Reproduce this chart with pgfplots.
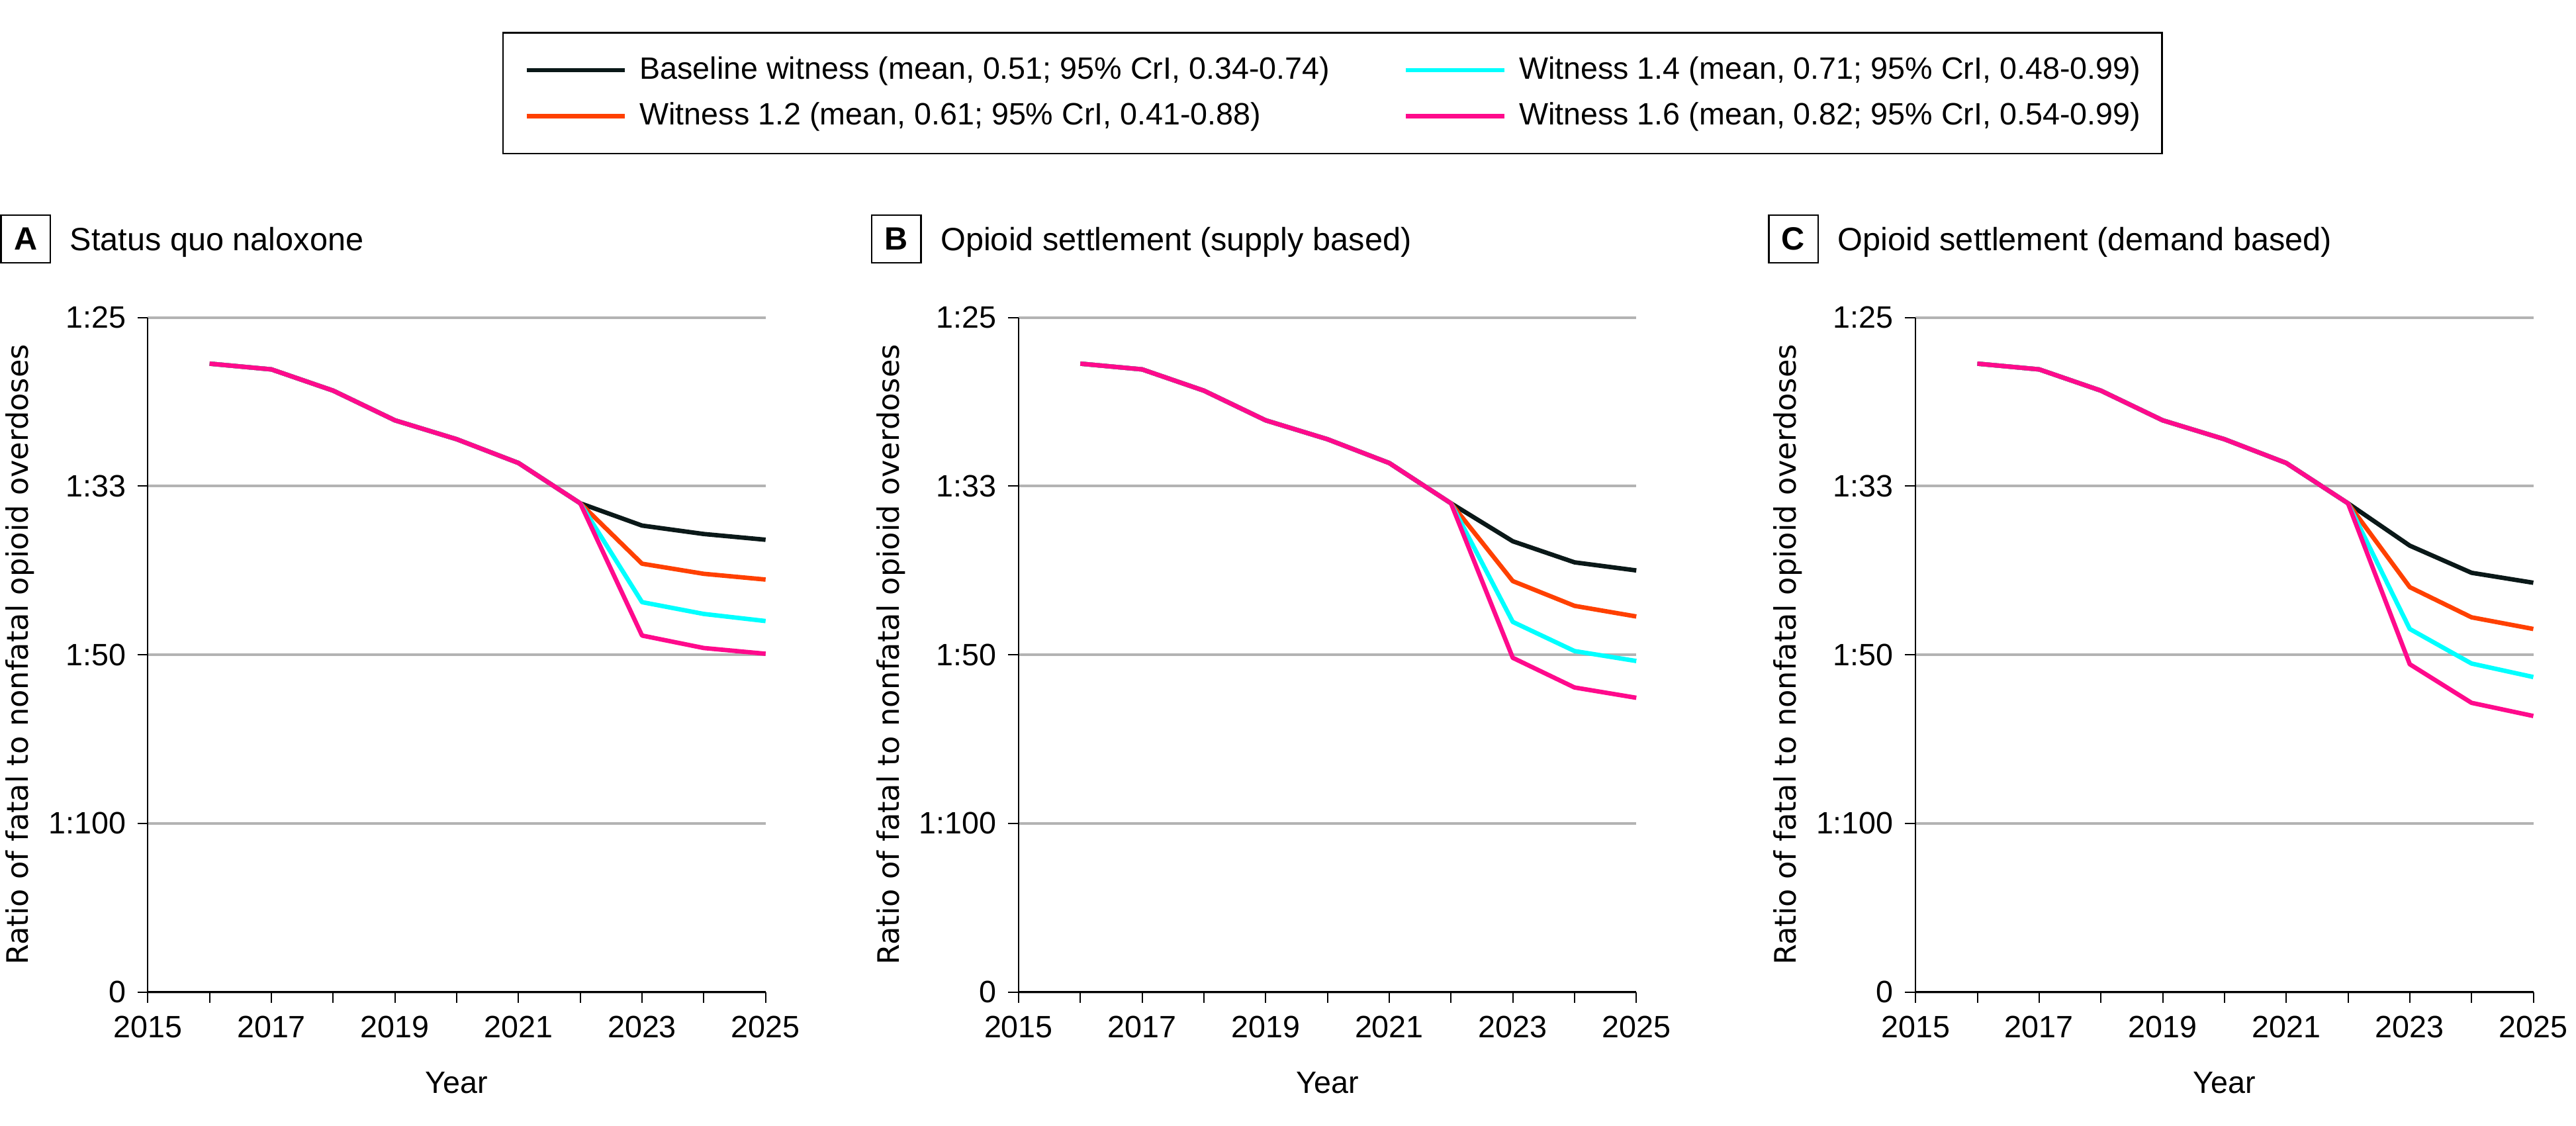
\documentclass[border=0pt]{standalone}
\usepackage{fontspec}
\setmainfont{Liberation Sans}
\newfontfamily\dejavu{DejaVu Sans}
\usepackage{pgfplots}
\usepackage{pgfplotstable}
\pgfplotsset{compat=1.18}
\definecolor{cblack}{HTML}{0A1818}
\definecolor{corange}{HTML}{FF4000}
\definecolor{ccyan}{HTML}{00FFFF}
\definecolor{cmag}{HTML}{FF0A8C}
\definecolor{cgrid}{HTML}{B3B3B3}

\pgfplotstableread{
year black orange cyan magenta
2016 0.03726 0.03726 0.03726 0.03726
2017 0.03692 0.03692 0.03692 0.03692
2018 0.03566 0.03566 0.03566 0.03566
2019 0.03390 0.03390 0.03390 0.03390
2020 0.03278 0.03278 0.03278 0.03278
2021 0.03137 0.03137 0.03137 0.03137
2022 0.02898 0.02898 0.02898 0.02898
2023 0.02766 0.02540 0.02312 0.02114
2024 0.02716 0.02480 0.02242 0.02040
2025 0.02682 0.02446 0.02200 0.02006
}\dataA

\pgfplotstableread{
year black orange cyan magenta
2016 0.03726 0.03726 0.03726 0.03726
2017 0.03692 0.03692 0.03692 0.03692
2018 0.03566 0.03566 0.03566 0.03566
2019 0.03390 0.03390 0.03390 0.03390
2020 0.03278 0.03278 0.03278 0.03278
2021 0.03137 0.03137 0.03137 0.03137
2022 0.02898 0.02898 0.02898 0.02898
2023 0.02673 0.02437 0.02195 0.01982
2024 0.02548 0.02290 0.02022 0.01806
2025 0.02500 0.02227 0.01963 0.01745
}\dataB

\pgfplotstableread{
year black orange cyan magenta
2016 0.03726 0.03726 0.03726 0.03726
2017 0.03692 0.03692 0.03692 0.03692
2018 0.03566 0.03566 0.03566 0.03566
2019 0.03390 0.03390 0.03390 0.03390
2020 0.03278 0.03278 0.03278 0.03278
2021 0.03137 0.03137 0.03137 0.03137
2022 0.02898 0.02898 0.02898 0.02898
2023 0.02647 0.02401 0.02153 0.01944
2024 0.02486 0.02222 0.01948 0.01715
2025 0.02427 0.02153 0.01868 0.01637
}\dataC

\pgfplotsset{
  panel/.style={
    scale only axis, width=188pt, height=205.3pt,
    xmin=2015, xmax=2025, ymin=0, ymax=0.04,
    axis x line*=bottom, axis y line*=left,
    x axis line style={line width=0.5pt, black, -},
    y axis line style={line width=0.4pt, black, -},
    xtick={2015,2017,...,2025}, minor xtick={2016,2018,...,2024},
    ytick={0,0.01,0.02,0.03,0.04}, yticklabels={0,1:100,1:50,1:33,1:25},
    scaled y ticks=false,
    tick align=outside, major tick length=3.2pt, minor tick length=3.2pt,
    every tick/.style={black, line width=0.4pt},
    minor tick style={black, line width=0.4pt},
    ymajorgrids, major grid style={cgrid, line width=0.8pt},
    /pgf/number format/1000 sep={}, /pgf/number format/assume math mode=true,
    tick label style={font=\fontsize{9.4}{11}\selectfont},
    xticklabel style={yshift=-0.5pt},
    xlabel={Year},
    xlabel style={at={(axis description cs:0.5,0)}, anchor=north, yshift=-20.7pt, font=\fontsize{9.4}{11}\selectfont},
    ylabel={Ratio of fatal to nonfatal opioid overdoses},
    ylabel style={at={(axis description cs:-0.1936,0.5)}, anchor=base, font=\dejavu\fontsize{9}{11}\selectfont},
    clip=false,
    every axis plot/.append style={line width=1.35pt, line join=round},
  }
}

\begin{document}
\begin{tikzpicture}
\useasboundingbox (0,0) rectangle (784pt,342.5pt);

% Panel A
\begin{axis}[panel, at={(45pt,40.6pt)}, anchor=south west,
  legend columns=2, legend cell align=left,
  legend image code/.code={\draw[#1] (0pt,0pt) -- (30pt,0pt);},
  legend style={at={(axis description cs:1.9176,1.4230)}, anchor=north,
    draw=black, line width=0.5pt, inner xsep=6.5pt, inner ysep=7.2pt,
    font=\fontsize{9.4}{11}\selectfont, nodes={inner sep=0pt}, row sep=5.7pt,
    /tikz/every odd column/.append style={column sep=3.75pt},
    /tikz/every even column/.append style={column sep=22.5pt}}]
\addlegendimage{cblack, line width=1.35pt}
\addlegendentry{Baseline witness (mean, 0.51; 95\% CrI, 0.34-0.74)}
\addlegendimage{ccyan, line width=1.35pt}
\addlegendentry{Witness 1.4 (mean, 0.71; 95\% CrI, 0.48-0.99)}
\addlegendimage{corange, line width=1.35pt}
\addlegendentry{Witness 1.2 (mean, 0.61; 95\% CrI, 0.41-0.88)}
\addlegendimage{cmag, line width=1.35pt}
\addlegendentry{Witness 1.6 (mean, 0.82; 95\% CrI, 0.54-0.99)}
\addplot[cblack, forget plot] table[x=year, y=black] {\dataA};
\addplot[corange, forget plot] table[x=year, y=orange] {\dataA};
\addplot[ccyan, forget plot] table[x=year, y=cyan] {\dataA};
\addplot[cmag, forget plot] table[x=year, y=magenta] {\dataA};
\end{axis}

% Panel B
\begin{axis}[panel, at={(310pt,40.6pt)}, anchor=south west]
\addplot[cblack] table[x=year, y=black] {\dataB};
\addplot[corange] table[x=year, y=orange] {\dataB};
\addplot[ccyan] table[x=year, y=cyan] {\dataB};
\addplot[cmag] table[x=year, y=magenta] {\dataB};
\end{axis}

% Panel C
\begin{axis}[panel, at={(583pt,40.6pt)}, anchor=south west]
\addplot[cblack] table[x=year, y=black] {\dataC};
\addplot[corange] table[x=year, y=orange] {\dataC};
\addplot[ccyan] table[x=year, y=cyan] {\dataC};
\addplot[cmag] table[x=year, y=magenta] {\dataC};
\end{axis}

% Panel titles
\tikzset{pbox/.style={draw, line width=0.5pt, minimum width=15pt, minimum height=14.5pt, inner sep=0pt, font=\bfseries\fontsize{9.8}{11}\selectfont},
         ptitle/.style={anchor=base west, inner sep=0pt, font=\fontsize{9.8}{12}\selectfont}}
\node[pbox] at (7.8pt,269.75pt) {A};
\node[ptitle] at (21.1pt,266.3pt) {Status quo naloxone};
\node[pbox] at (272.8pt,269.75pt) {B};
\node[ptitle] at (286.1pt,266.3pt) {Opioid settlement (supply based)};
\node[pbox] at (545.8pt,269.75pt) {C};
\node[ptitle] at (559.1pt,266.3pt) {Opioid settlement (demand based)};
\end{tikzpicture}
\end{document}
